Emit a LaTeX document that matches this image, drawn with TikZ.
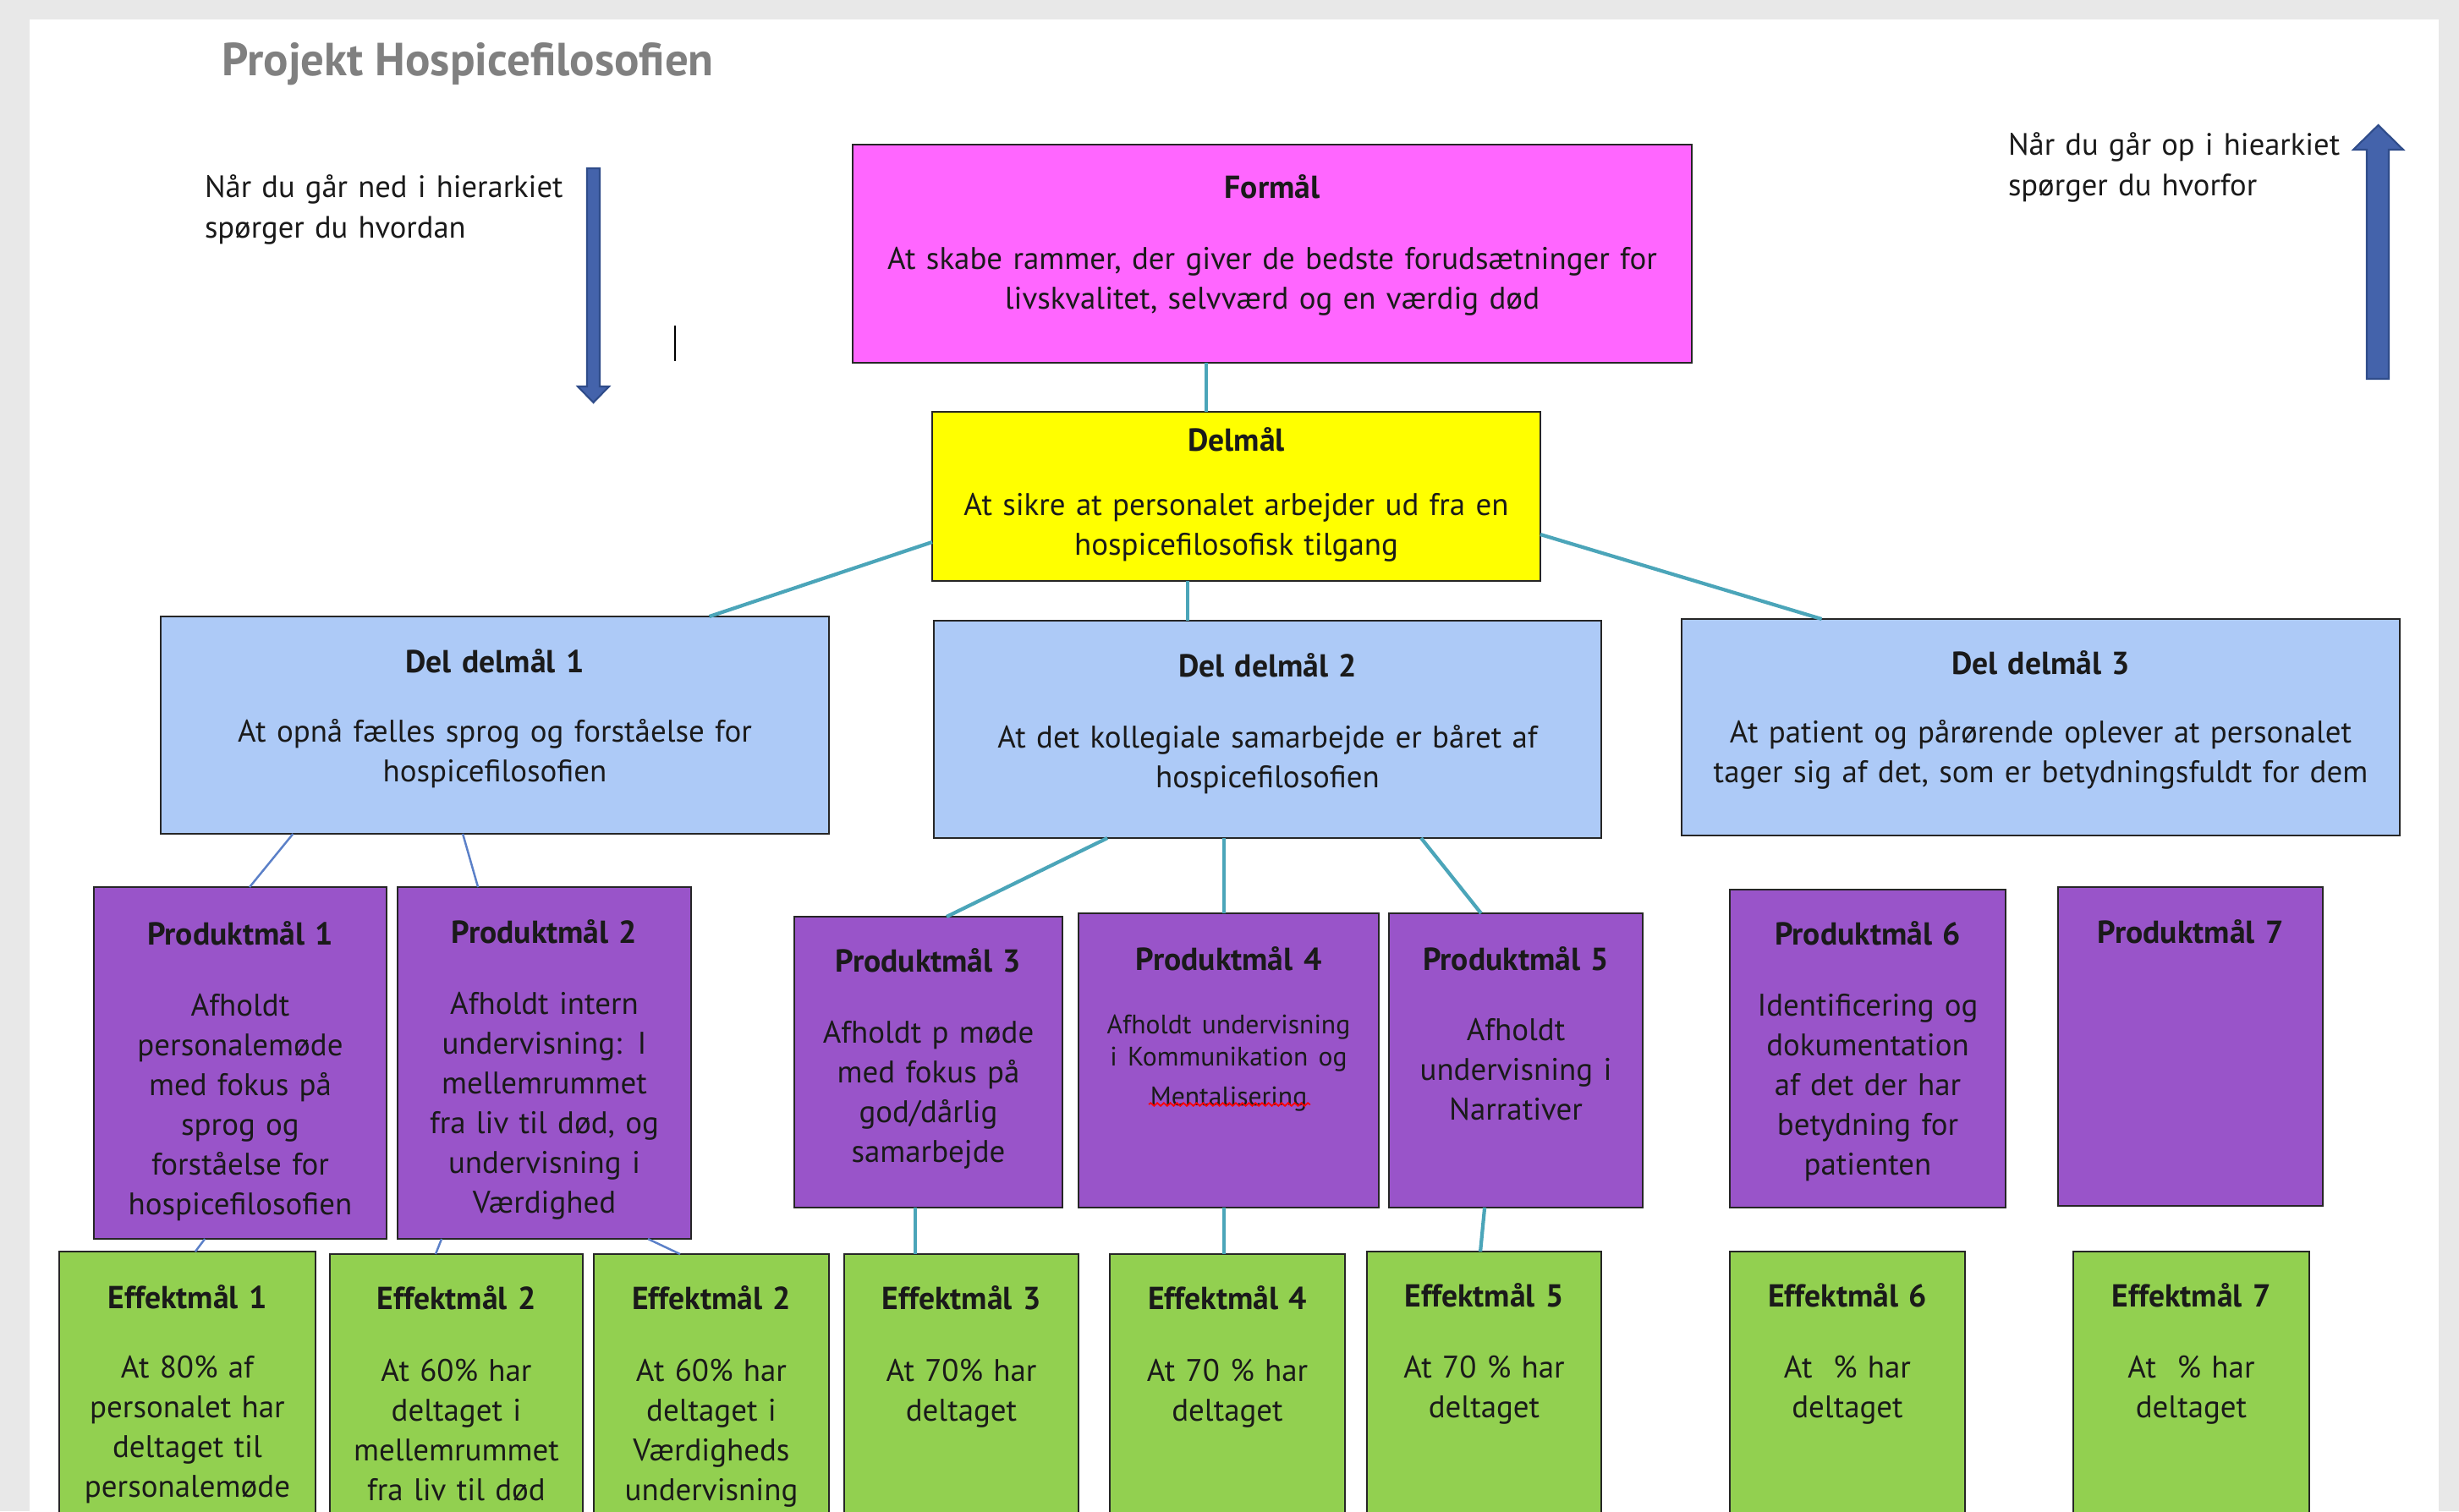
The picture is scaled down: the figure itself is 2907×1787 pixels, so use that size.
\documentclass[tikz,border=0pt]{standalone}
\usepackage{fontspec}
\setmainfont{PT Sans}
\usetikzlibrary{calc,decorations.pathmorphing}
\definecolor{cMag}{HTML}{FF66FF}
\definecolor{cYel}{HTML}{FFFF00}
\definecolor{cLB}{HTML}{ADCAF7}
\definecolor{cPur}{HTML}{9954C9}
\definecolor{cGrn}{HTML}{92D050}
\definecolor{cTeal}{HTML}{4BA5B9}
\definecolor{cBlu}{HTML}{5B80C8}
\definecolor{cArr}{HTML}{4463AB}
\definecolor{cArrD}{HTML}{2F4C8A}
\definecolor{cBg}{HTML}{E8E8E8}
\definecolor{cTitle}{HTML}{808080}
\definecolor{cInk}{HTML}{1A1A1A}
\newcommand\ttlb[1]{{\fontsize{10.7pt}{12pt}\selectfont\bfseries #1}}
\newcommand\mkbox[8]{%
  \node[#2, anchor=north west, minimum width={(#5-#3)*0.01cm}, minimum height={(#6-#4)*0.01cm}] (#1) at (#3,#4) {};
  \node[txt, anchor=base, text width={(#5-#3-10)*0.01cm}] (#1-t) at ({(#3+#5)/2},#7) {#8};
}
\begin{document}
\begin{tikzpicture}[x=0.01cm,y=-0.01cm,
  box/.style={draw=black!85, line width=0.8pt, inner sep=0pt, outer sep=0pt},
  fbox/.style={box, fill=cMag},
  dbox/.style={box, fill=cYel},
  ddbox/.style={box, fill=cLB},
  pbox/.style={box, fill=cPur},
  ebox/.style={box, fill=cGrn},
  txt/.style={inner sep=0pt, outer sep=0pt, align=center, text=cInk, font=\fontsize{10.5pt}{0.47cm}\selectfont},
  side/.style={inner sep=0pt, outer sep=0pt, align=left, text=cInk, text width=5cm, font=\fontsize{10.4pt}{0.48cm}\selectfont},
  conT/.style={draw=cTeal, line width=1.2pt},
  conB/.style={draw=cBlu, line width=0.7pt},
  bigarrow/.style={fill=cArr, draw=cArrD, line width=0.6pt}
]
\clip (0,0) rectangle (2907,1787);
\fill[cBg] (0,0) rectangle (2907,1787);
\fill[white] (35,23) rectangle (2883,1787);

% title and side notes
\node[anchor=base west, inner sep=0pt, text=cTitle, font=\bfseries\fontsize{15.6pt}{18pt}\selectfont] (title) at (262,89) {Projekt Hospicefilosofien};
\node[side, anchor=base west] (downtxt) at (242,233) {Når du går ned i hierarkiet\\spørger du hvordan};
\node[side, anchor=base west] (uptxt) at (2374,183) {Når du går op i hiearkiet\\spørger du hvorfor};
\draw[bigarrow] (694,199) -- (709,199) -- (709,457) -- (720,457) -- (701.5,476) -- (683,457) -- (694,457) -- cycle;
\draw[bigarrow] (2798,448) -- (2824,448) -- (2824,177) -- (2841,177) -- (2811.5,148) -- (2782,177) -- (2798,177) -- cycle;
\draw[black, line width=0.5pt] (798,385) -- (798,427);

% boxes
\mkbox{f}{fbox}{1008}{171}{2000}{429}{234}{\fontsize{10.5pt}{0.48cm}\selectfont\ttlb{Formål}\\[0.36cm]At skabe rammer, der giver de bedste forudsætninger for\\livskvalitet, selvværd og en værdig død}
\mkbox{d}{dbox}{1102}{487}{1821}{687}{533}{\fontsize{10.5pt}{0.43cm}\selectfont\ttlb{Delmål}\\[0.33cm]At sikre at personalet arbejder ud fra en\\hospicefilosofisk tilgang}
\mkbox{dd1}{ddbox}{190}{729}{980}{986}{795}{\fontsize{10.5pt}{0.48cm}\selectfont\ttlb{Del delmål 1}\\[0.34cm]At opnå fælles sprog og forståelse for\\hospicefilosofien}
\mkbox{dd2}{ddbox}{1104}{734}{1893}{991}{800}{\fontsize{10.5pt}{0.48cm}\selectfont\ttlb{Del delmål 2}\\[0.36cm]At det kollegiale samarbejde er båret af\\hospicefilosofien}
\mkbox{dd3}{ddbox}{1988}{732}{2837}{988}{797}{\fontsize{10.5pt}{0.49cm}\selectfont\ttlb{Del delmål 3}\\[0.32cm]At patient og pårørende oplever at personalet\\tager sig af det, som er betydningsfuldt for dem}

\mkbox{p1}{pbox}{111}{1049}{457}{1465}{1117}{\ttlb{Produktmål 1}\\[0.37cm]Afholdt\\personalemøde\\med fokus på\\sprog og\\forståelse for\\hospicefilosofien}
\mkbox{p2}{pbox}{470}{1049}{817}{1465}{1115}{\ttlb{Produktmål 2}\\[0.37cm]Afholdt intern\\undervisning: I\\mellemrummet\\fra liv til død, og\\undervisning i\\Værdighed}
\mkbox{p3}{pbox}{939}{1084}{1256}{1428}{1149}{\ttlb{Produktmål 3}\\[0.37cm]Afholdt p møde\\med fokus på\\god/dårlig\\samarbejde}
\mkbox{p4}{pbox}{1275}{1080}{1630}{1428}{1147}{\fontsize{9pt}{0.385cm}\selectfont\ttlb{Produktmål 4}\\[0.365cm]Afholdt undervisning\\i Kommunikation og\\Mentalisering}
\mkbox{p5}{pbox}{1642}{1080}{1942}{1428}{1147}{\ttlb{Produktmål 5}\\[0.36cm]Afholdt\\undervisning i\\Narrativer}
\mkbox{p6}{pbox}{2045}{1052}{2371}{1428}{1117}{\ttlb{Produktmål 6}\\[0.37cm]Identificering og\\dokumentation\\af det der har\\betydning for\\patienten}
\mkbox{p7}{pbox}{2433}{1049}{2746}{1426}{1115}{\ttlb{Produktmål 7}}

\mkbox{e1}{ebox}{70}{1480}{373}{1800}{1547}{\ttlb{Effektmål 1}\\[0.35cm]At 80\% af\\personalet har\\deltaget til\\personalemøde}
\mkbox{e2a}{ebox}{390}{1483}{689}{1800}{1548}{\ttlb{Effektmål 2}\\[0.38cm]At 60\% har\\deltaget i\\mellemrummet\\fra liv til død}
\mkbox{e2b}{ebox}{702}{1483}{980}{1800}{1548}{\ttlb{Effektmål 2}\\[0.38cm]At 60\% har\\deltaget i\\Værdigheds\\undervisning}
\mkbox{e3}{ebox}{998}{1483}{1275}{1800}{1548}{\ttlb{Effektmål 3}\\[0.38cm]At 70\% har\\deltaget}
\mkbox{e4}{ebox}{1312}{1483}{1590}{1800}{1548}{\ttlb{Effektmål 4}\\[0.38cm]At 70 \% har\\deltaget}
\mkbox{e5}{ebox}{1616}{1480}{1893}{1800}{1545}{\ttlb{Effektmål 5}\\[0.37cm]At 70 \% har\\deltaget}
\mkbox{e6}{ebox}{2045}{1480}{2323}{1800}{1545}{\ttlb{Effektmål 6}\\[0.37cm]At\ \ \% har\\deltaget}
\mkbox{e7}{ebox}{2451}{1480}{2730}{1800}{1545}{\ttlb{Effektmål 7}\\[0.37cm]At\ \ \% har\\deltaget}

% spell-check underline
\draw[red, line width=0.5pt, decorate, decoration={snake, amplitude=0.5pt, segment length=2.2pt}] (1358,1306) -- (1549,1306);

% connectors
\draw[conT] ($(f.south west)!0.421!(f.south east)$) coordinate (c1) -- (c1 |- d.north);
\draw[conT] ($(d.south west)!0.42!(d.south east)$) coordinate (c2) -- (c2 |- dd2.north);
\draw[conT] ($(d.north west)!0.77!(d.south west)$) -- ($(dd1.north west)!0.821!(dd1.north east)$);
\draw[conT] ($(d.north east)!0.725!(d.south east)$) -- ($(dd3.north west)!0.195!(dd3.north east)$);
\draw[conB] ($(dd1.south west)!0.198!(dd1.south east)$) -- ($(p1.north west)!0.532!(p1.north east)$);
\draw[conB] ($(dd1.south west)!0.452!(dd1.south east)$) -- ($(p2.north west)!0.274!(p2.north east)$);
\draw[conB] ($(p1.south west)!0.379!(p1.south east)$) -- ($(e1.north west)!0.531!(e1.north east)$);
\draw[conB] ($(p2.south west)!0.15!(p2.south east)$) -- ($(e2a.north west)!0.418!(e2a.north east)$);
\draw[conB] ($(p2.south west)!0.853!(p2.south east)$) -- ($(e2b.north west)!0.367!(e2b.north east)$);
\draw[conT] ($(dd2.south west)!0.26!(dd2.south east)$) -- ($(p3.north west)!0.568!(p3.north east)$);
\draw[conT] ($(dd2.south west)!0.435!(dd2.south east)$) coordinate (c3) -- (c3 |- p4.north);
\draw[conT] ($(dd2.south west)!0.73!(dd2.south east)$) -- ($(p5.north west)!0.363!(p5.north east)$);
\draw[conT] ($(p3.south west)!0.451!(p3.south east)$) coordinate (c4) -- (c4 |- e3.north);
\draw[conT] ($(p4.south west)!0.485!(p4.south east)$) coordinate (c5) -- (c5 |- e4.north);
\draw[conT] ($(p5.south west)!0.377!(p5.south east)$) -- ($(e5.north west)!0.484!(e5.north east)$);
\end{tikzpicture}
\end{document}
